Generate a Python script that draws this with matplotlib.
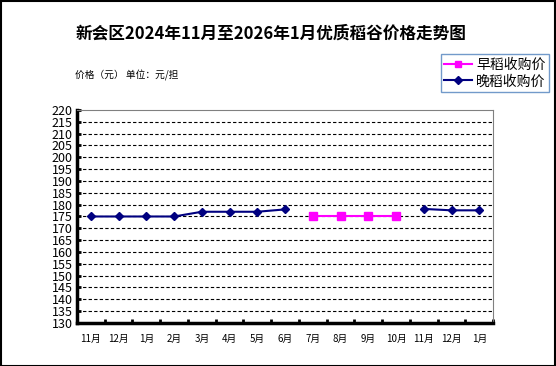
import numpy as np
import matplotlib
matplotlib.use('Agg')
import matplotlib.pyplot as plt

plt.rcParams['font.family'] = ['Noto Sans CJK SC', 'DejaVu Sans']

months = ['11月', '12月', '1月', '2月', '3月', '4月', '5月', '6月',
          '7月', '8月', '9月', '10月', '11月', '12月', '1月']
early = [np.nan] * 8 + [175, 175, 175, 175] + [np.nan] * 3
late = [175, 175, 175, 175, 177, 177, 177, 178] + [np.nan] * 4 + [178.2, 177.6, 177.6]

fig = plt.figure(figsize=(5.56, 3.66), dpi=100)
ax = fig.add_axes([0.1385, 0.1175, 0.887 - 0.1385, 0.6995 - 0.1175])

x = np.arange(len(months)) + 0.5
ax.plot(x, early, color='#ff00ff', marker='s', markersize=6, lw=1.5, label='早稻收购价')
ax.plot(x, late, color='#000080', marker='D', markersize=4.5, lw=1.5, label='晚稻收购价')

ax.set_xlim(0, 15)
ax.set_ylim(130, 220)
ax.set_yticks(np.arange(130, 221, 5))
ax.tick_params(axis='y', direction='in', length=3, width=2, labelsize=9, pad=3)
for y in range(135, 220, 5):
    ax.axhline(y, color='black', ls=(0, (3, 2)), lw=0.8, zorder=0)

ax.set_xticks(np.arange(0, 16))
ax.set_xticklabels([])
ax.set_xticks(x, minor=True)
ax.set_xticklabels(months, minor=True, fontsize=7)
ax.tick_params(axis='x', which='major', direction='in', length=3, width=2)
ax.tick_params(axis='x', which='minor', length=0, pad=8)

ax.spines['left'].set_linewidth(2.5)
ax.spines['bottom'].set_linewidth(2.5)
ax.spines['top'].set_color('#808080')
ax.spines['right'].set_color('#808080')

fig.text(271 / 556, 1 - 34 / 366, '新会区2024年11月至2026年1月优质稻谷价格走势图',
         ha='center', va='center', fontsize=12, fontweight='bold')
fig.text(75 / 556, 1 - 75 / 366, '价格（元） 单位：元/担', ha='left', va='center', fontsize=7)

leg = fig.legend(loc='upper right', bbox_to_anchor=(549 / 556, 1 - 54 / 366),
                 borderaxespad=0, fontsize=10, frameon=True, fancybox=False,
                 handlelength=2.0, borderpad=0.25, labelspacing=0.2,
                 handletextpad=0.3, markerscale=0.8)
leg.get_frame().set_edgecolor('#4f81bd')
leg.get_frame().set_linewidth(1)

fig.patches.append(plt.Rectangle((0.001, 0.001), 0.997, 0.996, transform=fig.transFigure,
                                 fill=False, edgecolor='black', lw=1.5))

fig.savefig('out.png', dpi=100)
